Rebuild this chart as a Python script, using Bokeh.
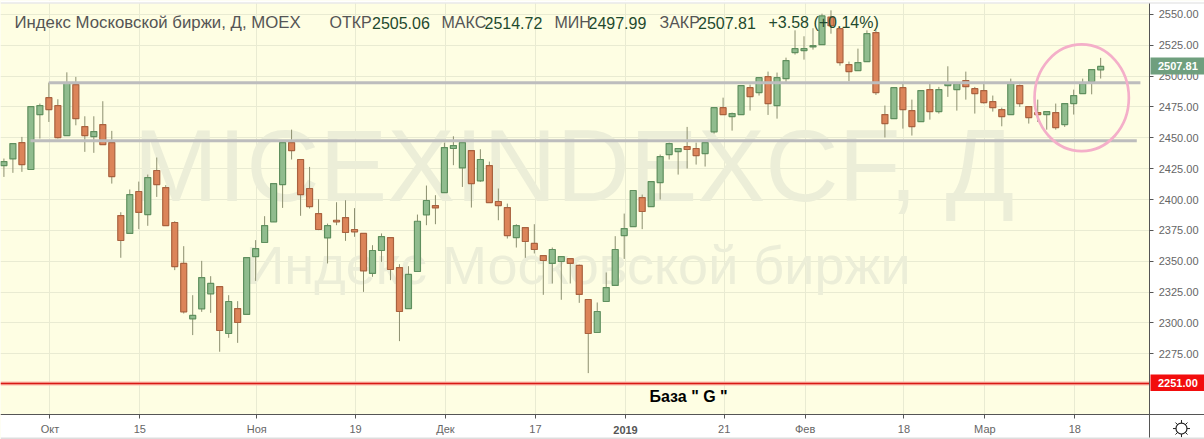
from bokeh.plotting import figure
from bokeh.embed import file_html
from bokeh.resources import INLINE
from bokeh.models import ColumnDataSource, FixedTicker, PrintfTickFormatter, Label, BoxAnnotation, Range1d

opens = [2427.5,2432.9,2446.1,2424.3,2468.8,2482.5,2476.1,2451.8,2493.1,2459.1,2451.0,2460.7,2446.1,2387.0,2372.5,2406.5,2387.8,2423.5,2409.7,2381.4,
2348.2,2303.4,2311.5,2323.6,2329.5,2291.5,2311.7,2306.9,2353.8,2365.2,2381.9,2412.1,2446.1,2432.4,2408.9,2388.6,2368.9,2383.2,2385.4,2375.7,
2372.5,2340.1,2358.7,2369.2,2344.9,2311.7,2341.7,2387.6,2395.1,2405.6,2441.3,2425.6,2439.6,2415.1,2427.5,2398.4,2393.5,2369.2,2377.3,2364.4,
2354.6,2348.2,2349.8,2352.2,2346.6,2319.0,2292.3,2317.4,2330.4,2370.8,2378.1,2401.6,2394.3,2413.7,2436.4,2438.8,2442.9,2441.3,2437.2,2454.8,
2474.4,2467.2,2468.8,2490.6,2486.6,2499.5,2476.1,2497.9,2519.0,2520.6,2523.6,2525.4,2547.8,2538.4,2509.3,2504.4,2511.7,2535.2,2468.8,2465.5,
2490.6,2472.0,2463.1,2489.0,2471.2,2492.3,2489.0,2496.3,2489.8,2488.2,2479.3,2472.8,2468.8,2492.3,2475.3,2470.4,2468.8,2470.4,2460.7,2477.7,
2485.8,2495.5,2505.06]
highs = [2433.2,2445.3,2450.7,2475.3,2477.7,2494.7,2481.2,2503.0,2499.3,2467.4,2467.4,2479.6,2455.6,2389.7,2408.1,2414.5,2420.2,2434.0,2411.6,2382.4,
2362.2,2322.5,2350.3,2337.9,2329.5,2322.5,2317.7,2353.0,2367.1,2386.5,2412.9,2446.1,2456.6,2432.4,2426.4,2400.2,2380.5,2397.8,2399.4,2393.0,
2372.5,2363.0,2372.5,2369.2,2347.6,2346.0,2387.8,2411.3,2403.5,2446.1,2451.2,2446.1,2439.6,2440.7,2430.7,2408.9,2396.7,2380.0,2377.3,2380.0,
2354.6,2361.1,2353.8,2352.2,2347.3,2319.0,2316.6,2340.9,2370.3,2388.6,2407.3,2404.0,2414.5,2436.4,2446.1,2441.3,2458.8,2446.1,2446.1,2474.4,
2482.5,2470.4,2492.3,2493.1,2498.7,2503.6,2502.8,2514.9,2537.0,2532.2,2538.7,2550.5,2553.2,2538.4,2511.7,2522.2,2537.0,2537.0,2476.1,2490.6,
2493.9,2480.9,2488.2,2493.9,2491.2,2507.9,2493.9,2503.6,2491.2,2493.9,2484.2,2474.4,2497.9,2493.1,2475.3,2480.9,2471.2,2477.7,2477.7,2489.0,
2497.9,2505.2,2514.72]
lows = [2418.3,2421.6,2422.4,2424.3,2449.4,2462.8,2449.4,2451.8,2460.1,2438.6,2437.8,2444.5,2412.9,2352.8,2372.5,2376.0,2378.7,2402.1,2378.9,2342.8,
2307.7,2290.2,2309.0,2308.2,2276.7,2288.0,2283.9,2306.9,2334.1,2365.2,2381.9,2393.2,2432.4,2386.8,2392.7,2375.2,2348.2,2379.2,2366.5,2369.8,
2325.2,2337.4,2349.5,2334.7,2285.3,2311.7,2341.7,2379.2,2380.0,2405.6,2427.8,2410.2,2393.5,2414.3,2397.5,2383.2,2368.4,2361.1,2352.8,2356.3,
2322.8,2332.0,2318.8,2332.0,2316.3,2259.4,2292.3,2317.4,2330.4,2351.9,2378.1,2376.0,2394.3,2400.0,2432.4,2420.2,2425.1,2428.3,2426.7,2453.4,
2468.8,2455.8,2468.8,2472.0,2484.2,2468.5,2465.5,2493.9,2517.4,2513.3,2521.4,2525.4,2534.3,2508.4,2495.8,2504.4,2511.7,2484.7,2450.2,2465.5,
2457.4,2451.8,2463.1,2464.7,2469.6,2483.1,2472.0,2480.9,2469.6,2477.7,2471.2,2459.3,2468.8,2475.0,2461.5,2462.8,2456.6,2456.6,2458.8,2468.8,
2485.8,2485.2,2497.99]
closes = [2430.7,2445.3,2428.3,2475.3,2476.1,2472.8,2450.2,2494.7,2465.5,2451.8,2455.0,2444.5,2418.6,2366.8,2404.0,2389.5,2417.8,2412.1,2378.9,2345.7,
2309.0,2306.1,2336.8,2332.0,2293.9,2317.4,2300.4,2353.0,2360.3,2378.9,2412.9,2446.1,2439.6,2404.0,2394.3,2375.7,2378.9,2381.9,2373.3,2373.8,
2342.2,2358.7,2370.0,2343.3,2309.3,2339.3,2382.4,2399.2,2393.2,2442.1,2443.7,2446.1,2412.9,2432.4,2397.5,2395.1,2370.8,2378.9,2366.0,2359.5,
2350.6,2359.5,2353.8,2348.2,2323.1,2291.5,2309.3,2328.7,2359.5,2376.5,2407.3,2390.3,2414.5,2434.8,2445.3,2441.3,2440.5,2435.6,2446.1,2474.4,
2468.8,2469.6,2492.3,2483.4,2498.7,2477.7,2498.7,2512.5,2522.2,2522.2,2524.6,2548.7,2540.8,2510.9,2503.6,2510.9,2534.3,2486.6,2461.5,2490.6,
2472.8,2459.1,2488.2,2471.2,2489.0,2493.9,2493.9,2491.4,2485.8,2478.5,2474.4,2467.2,2493.9,2477.7,2466.4,2468.8,2471.2,2458.3,2477.7,2484.2,
2493.9,2505.2,2507.81]

y_ticks = [2275, 2300, 2325, 2350, 2375, 2400, 2425, 2450, 2475, 2500, 2525, 2550]
x_tick_index = [5, 15, 28, 39, 49, 59, 69, 80, 89, 100, 109, 119]
x_tick_labels = ["Окт", "15", "Ноя", "19", "Дек", "17", "2019", "21", "Фев", "18", "Мар", "18"]

resistance_level = 2494.5
support_level = 2447.5
base_level = 2251.0
last_close = 2507.81

title_text = "Индекс Московской биржи, Д, MOEX"
ohlc_names = ["ОТКР", "МАКС", "МИН", "ЗАКР"]
ohlc_values = ["2505.06", "2514.72", "2497.99", "2507.81"]
change_text = "+3.58 (+0.14%)"

BG = "#FEFEE3"
GRID = "#E9EBD2"
GREEN = "#90BC8E"
GREEN_LINE = "#5F8F5E"
RED = "#DC8459"
RED_LINE = "#A9623F"
WICK = "#8C8F6F"
WM = "#ECEED8"
LEG = "#555555"
VAL = "#1F4A2E"
AXIS = "#555555"

X_MIN, X_AXIS, X_MAX = -0.5, 127.34, 133.43
Y_MIN, Y_AXIS, Y_TOP, Y_MAX = 2205.63, 2225.9, 2558.8, 2561.18

p = figure(width=1204, height=439, output_backend="svg", toolbar_location=None,
           y_axis_location="right", min_border=0,
           x_range=Range1d(X_MIN, X_MAX), y_range=Range1d(Y_MIN, Y_MAX),
           background_fill_color=BG, outline_line_color=None)

xa, ya = p.xaxis[0], p.yaxis[0]
xa.fixed_location = Y_AXIS
ya.fixed_location = X_AXIS
xa.bounds = (X_MIN, X_MAX)
ya.bounds = (Y_MIN + 1.6, Y_TOP)
xa.ticker = FixedTicker(ticks=x_tick_index)
over = {i: t for i, t in zip(x_tick_index, x_tick_labels)}
over[69] = " "
xa.major_label_overrides = over
ya.ticker = FixedTicker(ticks=y_ticks)
ya.formatter = PrintfTickFormatter(format="%.2f")
for a in (xa, ya):
    a.axis_line_color = AXIS
    a.major_tick_line_color = AXIS
    a.major_tick_in = 0
    a.major_tick_out = 4
    a.minor_tick_line_color = None
    a.major_label_text_font = "Liberation Sans"
    a.major_label_text_font_size = "11px"
    a.major_label_text_color = "#666666"
    a.major_label_standoff = 5
p.xgrid[0].ticker = xa.ticker
p.ygrid[0].ticker = ya.ticker
p.xgrid[0].bounds = (Y_AXIS, Y_TOP)
p.ygrid[0].bounds = (X_MIN, X_AXIS)
for g in (p.xgrid[0], p.ygrid[0]):
    g.grid_line_color = GRID
    g.grid_line_width = 1


def box(l, r, t, b, c, level="annotation"):
    p.add_layout(BoxAnnotation(left=l, right=r, top=t, bottom=b, left_units="canvas", right_units="canvas",
                               top_units="canvas", bottom_units="canvas", fill_color=c, fill_alpha=1,
                               line_color=None, level=level))


def text(s, x, y, size, color=LEG, style="normal", font="Liberation Sans", level="annotation", **kw):
    p.add_layout(Label(x=x, y=y, x_units="canvas", y_units="canvas", text=s,
                       text_font=font, text_font_size=size, text_color=color,
                       text_font_style=style, text_baseline="middle", level=level, **kw))


box(0, 1204, 0, 3, "#FFFFFF", "underlay")
box(1149, 1204, 0, 439, "#FFFFFF", "underlay")
box(0, 1204, 414, 439, "#FFFFFF", "underlay")
box(0, 1204, 2, 3, "#DDDDDD", "underlay")
box(0, 1204, 437, 439, "#DDDDDD", "underlay")

text("MICEXINDEXCF, Д", 133, 165, "101.5px", WM, level="underlay")
text("Индекс Московской биржи", 245, 264, "54px", WM, level="underlay")

index = list(range(len(closes)))
x_c = [i - 0.12 for i in index]
up = [c >= o for o, c in zip(opens, closes)]
src = ColumnDataSource(dict(
    x=x_c, h=highs, l=lows,
    t=[max(o, c) for o, c in zip(opens, closes)],
    b=[min(o, c) for o, c in zip(opens, closes)],
    f=[GREEN if u else RED for u in up],
    e=[GREEN_LINE if u else RED_LINE for u in up],
))
p.segment(x0="x", x1="x", y0="l", y1="h", source=src, line_color=WICK, line_width=1)
p.vbar(x="x", width=0.67, top="t", bottom="b", source=src, fill_color="f", line_color="e", line_width=1.2)

p.segment(x0=[4.87, 2.84], x1=[126.3, 125.9], y0=[resistance_level, support_level],
          y1=[resistance_level, support_level], line_color="#BDBDBD", line_width=3)
p.line(x=[X_MIN, X_AXIS], y=[base_level, base_level], line_color="#FBB9A9", line_width=4)
p.line(x=[X_MIN, X_AXIS], y=[base_level, base_level], line_color="#D81A14", line_width=1.3)
p.ellipse(x=[119.77], y=[2482.4], width=[10.49], height=[86.4], fill_color=None,
          line_color="#F4AFC9", line_width=2.7)

text(title_text, 14, 22, "16.8px")
for s, v, xs, xv in zip(ohlc_names, ohlc_values, [329, 441, 554, 659], [371.5, 484, 588, 697.5]):
    text(s, xs, 22, "16px")
    text(v, xv, 22, "16px", VAL)
text(change_text, 768, 22, "16px", VAL)

text("База  \" G \"", 649, 396, "16px", "#000000", "bold")
text("2019", 625, 429, "11px", "#555555", "bold", text_align="center")

box(1150, 1204, 57, 74, "#6F9F7E")
box(1150, 1204, 374, 390.5, "#F20D0D")
text(f"{last_close:.2f}", 1157.5, 65.5, "11px", "#FFFFFF", "bold")
text(f"{base_level:.2f}", 1157.5, 382, "11px", "#FFFFFF", "bold")

# settings icon in the lower right corner, drawn as markers
p.scatter(x=[130.87], y=[2214.5], marker="asterisk", size=17, line_color="#222222", line_width=1)
p.scatter(x=[130.87], y=[2214.5], marker="circle", size=11, fill_color="#FFFFFF", line_color="#222222", line_width=1.2)

open("out.html", "w").write(file_html(p, INLINE))
